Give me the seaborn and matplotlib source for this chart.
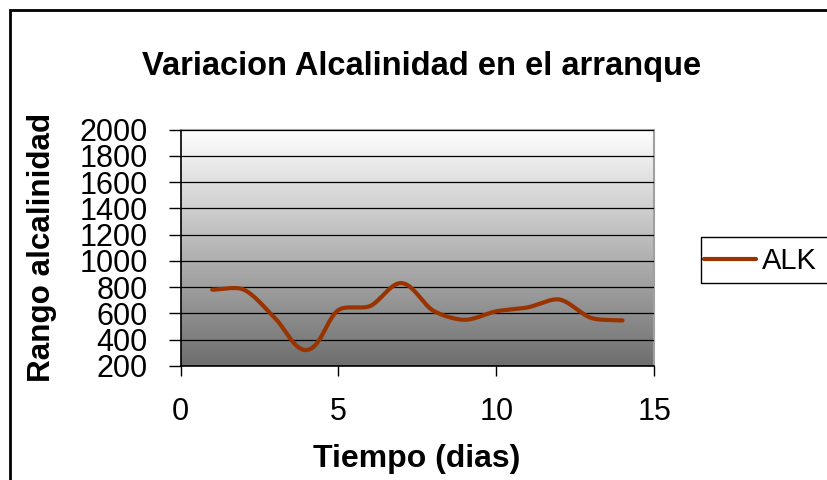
import numpy as np
import pandas as pd
import matplotlib
matplotlib.use("Agg")
import matplotlib.pyplot as plt
from matplotlib.colors import LinearSegmentedColormap
from matplotlib.patches import Rectangle
import seaborn as sns

# datos
dias = [1, 2, 3, 4, 5, 6, 7, 8, 9, 10, 11, 12, 13, 14]
alk = [780, 780, 560, 320, 625, 655, 830, 620, 550, 615, 645, 705, 565, 545]
y_ticks = [200, 400, 600, 800, 1000, 1200, 1400, 1600, 1800, 2000]
x_ticks = [0, 5, 10, 15]


def smooth(x, y, sx=31.55, sy=0.1311, k=0.28, n=40):
    """Smoothed line like Excel: bezier segments, tangents scaled by segment length."""
    p = np.column_stack([np.asarray(x, float) * sx, np.asarray(y, float) * sy])
    m = len(p)
    tang = np.zeros_like(p)
    for i in range(m):
        d = p[min(i + 1, m - 1)] - p[max(i - 1, 0)]
        tang[i] = d / np.linalg.norm(d)
    t = np.linspace(0, 1, n, endpoint=False)[:, None]
    pts = []
    for i in range(m - 1):
        seg = np.linalg.norm(p[i + 1] - p[i]) * k
        c1 = p[i] + tang[i] * seg
        c2 = p[i + 1] - tang[i + 1] * seg
        pts.append((1 - t) ** 3 * p[i] + 3 * (1 - t) ** 2 * t * c1
                   + 3 * (1 - t) * t ** 2 * c2 + t ** 3 * p[i + 1])
    pts.append(p[-1:])
    pts = np.vstack(pts)
    return pts[:, 0] / sx, pts[:, 1] / sy


sns.set_theme(style="white")
plt.rcParams['font.family'] = ['Liberation Sans', 'DejaVu Sans']
plt.rcParams['text.color'] = 'black'
plt.rcParams['axes.labelcolor'] = 'black'
plt.rcParams['xtick.color'] = 'black'
plt.rcParams['ytick.color'] = 'black'

fig = plt.figure(figsize=(8.28, 4.8), dpi=100)
ax = fig.add_axes([0.2182, 0.238, 0.5718, 0.492])

# fondo degradado del area de trazado
grad = np.linspace(1, 0, 256).reshape(-1, 1)
ax.imshow(grad, extent=[0, 1, 0, 1], transform=ax.transAxes, aspect='auto',
          cmap=LinearSegmentedColormap.from_list('g', ['#6e6e6e', '#ffffff']),
          zorder=0)

lx, ly = smooth(dias, alk)
df = pd.DataFrame({'Tiempo': lx, 'ALK': ly})
sns.lineplot(data=df, x='Tiempo', y='ALK', ax=ax, color='#993300',
             linewidth=3, sort=False, label='ALK', zorder=3)

ax.set_xlim(0, 15)
ax.set_ylim(200, 2000)
ax.set_xticks(x_ticks)
ax.set_yticks(y_ticks)
ax.yaxis.grid(True, color='black', linewidth=0.9)
ax.set_axisbelow(False)
for gl in ax.get_ygridlines():
    gl.set_zorder(1)

ax.tick_params(axis='y', direction='out', length=8.6, width=1,
               labelsize=22, pad=15, left=True)
ax.tick_params(axis='x', direction='out', length=7.2, width=1,
               labelsize=22, pad=15.5, bottom=True)

for side in ['left', 'bottom']:
    ax.spines[side].set_color('black')
    ax.spines[side].set_linewidth(1.2)
for side in ['top', 'right']:
    ax.spines[side].set_color('#a0a0a0')
    ax.spines[side].set_linewidth(1.5)

ax.set_xlabel('Tiempo (dias)', fontsize=23, fontweight='bold')
ax.set_ylabel('Rango alcalinidad', fontsize=22.6, fontweight='bold')
ax.xaxis.set_label_coords(0.498, -0.333)
ax.yaxis.set_label_coords(-0.261, 0.5)
fig.text(0.509, 0.844, 'Variacion Alcalinidad en el arranque', fontsize=23.5,
         fontweight='bold', ha='center', va='baseline')

# leyenda: caja cortada por el borde derecho como en el original
leg = ax.legend(loc='center left', bbox_to_anchor=(704 / 828, 1 - 261 / 480),
                bbox_transform=fig.transFigure, frameon=False,
                fontsize=21, handlelength=1.8, handletextpad=0.2,
                borderpad=0, borderaxespad=0)
fig.patches.append(Rectangle((701 / 828, 1 - 283 / 480), 0.2, 46 / 480,
                             transform=fig.transFigure, fill=False,
                             edgecolor='black', linewidth=1))

# marco del grafico
fig.patches.append(Rectangle((0.012, -0.1), 1.2, 1.08, transform=fig.transFigure,
                             fill=False, edgecolor='black', linewidth=2))

fig.savefig('out.png', dpi=100)
